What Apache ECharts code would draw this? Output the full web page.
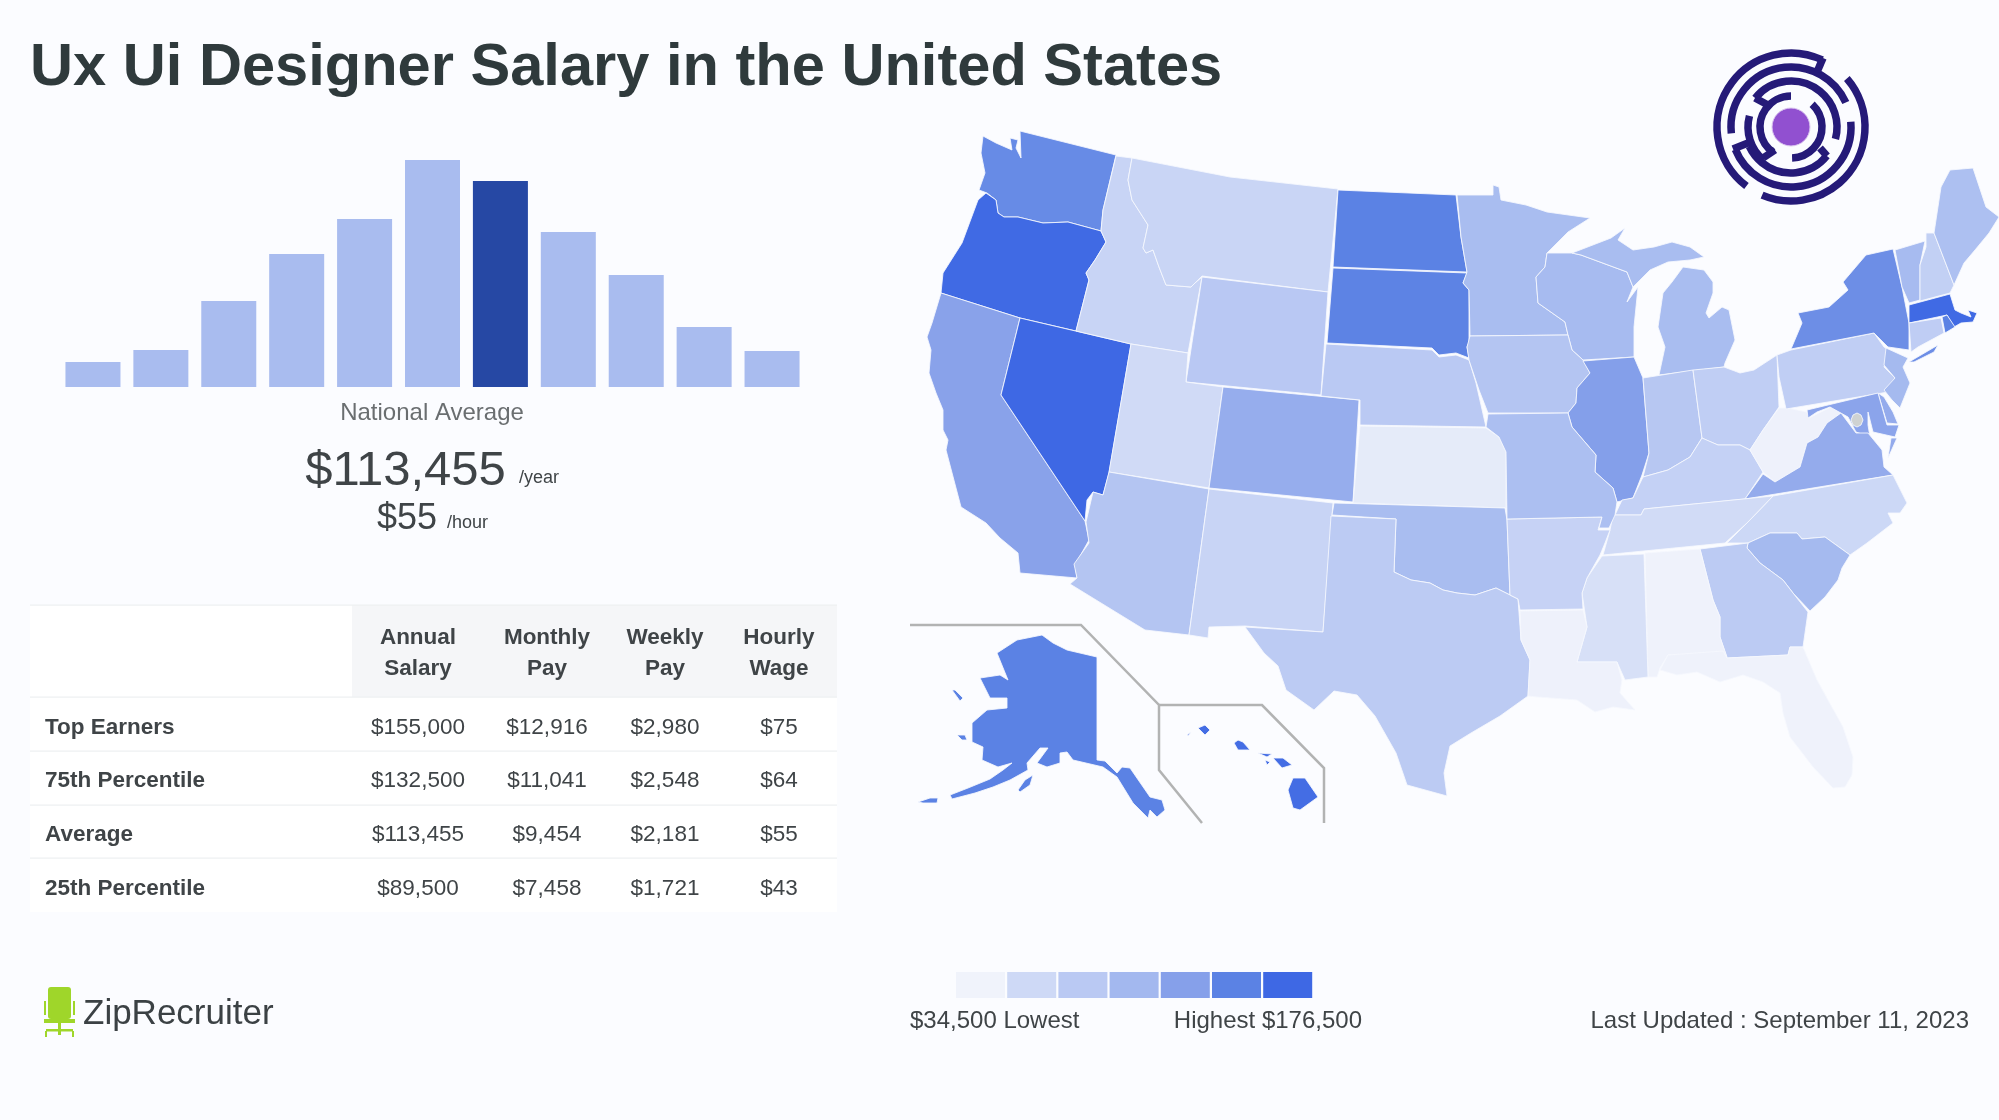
<!DOCTYPE html>
<html>
<head>
<meta charset="utf-8">
<title>Ux Ui Designer Salary in the United States</title>
<style>
html, body { margin: 0; padding: 0; background: #fbfcff; }
#main { width: 1999px; height: 1120px; }
</style>
<script src="https://cdn.jsdelivr.net/npm/echarts@6/dist/echarts.min.js"></script>
</head>
<body>
<div id="main"></div>
<script>
// histogram, relative share of each salary band
const salaryBands = ['b1', 'b2', 'b3', 'b4', 'b5', 'b6', 'b7', 'b8', 'b9', 'b10', 'b11'];
const bandShare = [25, 37, 86, 133, 168, 227, 206, 155, 112, 60, 36];
const averageBand = 'b7';

// pay table
const tableColumns = [['Annual', 'Salary'], ['Monthly', 'Pay'], ['Weekly', 'Pay'], ['Hourly', 'Wage']];
const tableRows = ['Top Earners', '75th Percentile', 'Average', '25th Percentile'];
const annualSalary = ['$155,000', '$132,500', '$113,455', '$89,500'];
const monthlyPay = ['$12,916', '$11,041', '$9,454', '$7,458'];
const weeklyPay = ['$2,980', '$2,548', '$2,181', '$1,721'];
const hourlyWage = ['$75', '$64', '$55', '$43'];

// state salaries, estimated from the fill shade of each state
const stateNames = ['AK', 'AL', 'AR', 'AZ', 'CA', 'CO', 'CT', 'DE', 'FL', 'GA', 'HI', 'IA', 'ID', 'IL', 'IN', 'KS', 'KY', 'LA', 'MA', 'MD', 'ME', 'MI', 'MN', 'MO', 'MS', 'MT', 'NC', 'ND', 'NE', 'NH', 'NJ', 'NM', 'NV', 'NY', 'OH', 'OK', 'OR', 'PA', 'RI', 'SC', 'SD', 'TN', 'TX', 'UT', 'VA', 'VT', 'WA', 'WI', 'WV', 'WY'];
const stateSalary = [153000, 35000, 68000, 88000, 127000, 116000, 76000, 118000, 35000, 79000, 172000, 88000, 65000, 130000, 85000, 42000, 70000, 36000, 175000, 125000, 95000, 99000, 99000, 96000, 52000, 64000, 60000, 153000, 82000, 72000, 103000, 65000, 176500, 143000, 75000, 99000, 175000, 75000, 153000, 103000, 152000, 56000, 79000, 57000, 118000, 101000, 146000, 101000, 36000, 83000];
const lowestSalary = 34500;
const highestSalary = 176500;
const scaleColors = ['#f0f3fb', '#ced9f6', '#bac9f3', '#a3b8ef', '#86a0ea', '#5b82e4', '#3e68e4'];

// simplified state outlines, in page pixels
const stateShapes = {
	WA: [[[983,136],[981,153],[985,173],[979,190],[987,193],[996,200],[998,213],[1004,217],[1018,217],[1043,223],[1068,222],[1101,231],[1103,210],[1116,155],[1020,131],[1021,158],[1016,148],[1018,140],[1010,138],[1012,150],[996,143]]],
	OR: [[[986,193],[978,200],[962,243],[943,273],[941,293],[1020,318],[1076,331],[1089,280],[1086,273],[1095,260],[1106,242],[1101,231],[1068,222],[1043,223],[1018,217],[1004,217],[998,213],[996,200]]],
	CA: [[[941,293],[1020,318],[1001,395],[1085,521],[1089,540],[1075,565],[1077,578],[1020,573],[1018,553],[1000,538],[986,523],[961,507],[946,450],[948,440],[943,430],[943,410],[936,393],[929,373],[931,350],[927,337],[932,323]]],
	NV: [[[1020,318],[1131,344],[1109,473],[1103,495],[1093,492],[1087,500],[1085,521],[1001,395]]],
	ID: [[[1116,156],[1132,158],[1128,180],[1132,200],[1148,225],[1143,248],[1146,253],[1153,250],[1159,267],[1166,285],[1191,287],[1195,283],[1202,277],[1188,353],[1131,344],[1076,331],[1089,280],[1086,273],[1095,260],[1106,242],[1101,231],[1103,210]]],
	MT: [[[1132,158],[1230,177],[1338,189],[1328,292],[1202,276],[1195,283],[1191,287],[1166,285],[1159,267],[1153,250],[1146,253],[1143,248],[1148,225],[1132,200],[1128,180]]],
	WY: [[[1202,277],[1328,292],[1321,395],[1186,382]]],
	UT: [[[1131,344],[1188,353],[1186,382],[1223,387],[1209,488],[1109,472]]],
	CO: [[[1223,387],[1359,400],[1353,502],[1209,488]]],
	AZ: [[[1109,472],[1209,489],[1189,635],[1145,630],[1070,584],[1077,578],[1074,564],[1089,543],[1086,522],[1093,492],[1103,495]]],
	NM: [[[1209,489],[1333,503],[1323,632],[1245,626],[1209,627],[1208,638],[1189,635]]],
	ND: [[[1338,190],[1456,195],[1461,237],[1467,272],[1333,267]]],
	SD: [[[1333,268],[1467,273],[1463,283],[1469,290],[1469,342],[1467,347],[1469,358],[1456,353],[1439,355],[1432,348],[1327,343]]],
	NE: [[[1326,344],[1432,350],[1439,357],[1456,355],[1469,360],[1476,383],[1486,427],[1360,425],[1360,400],[1321,396]]],
	KS: [[[1360,426],[1486,428],[1499,437],[1506,452],[1506,508],[1353,503]]],
	OK: [[[1334,503],[1505,508],[1507,520],[1510,595],[1496,588],[1475,595],[1457,593],[1443,590],[1430,583],[1411,580],[1394,572],[1396,519],[1332,515]]],
	TX: [[[1331,516],[1396,519],[1394,572],[1411,580],[1430,583],[1443,590],[1457,593],[1475,595],[1496,588],[1510,595],[1518,599],[1521,640],[1530,660],[1528,696],[1500,716],[1471,733],[1450,746],[1444,773],[1447,796],[1407,785],[1396,753],[1375,716],[1357,695],[1334,691],[1314,710],[1286,690],[1278,666],[1264,653],[1245,627],[1323,632]]],
	MN: [[[1457,195],[1493,195],[1493,185],[1499,187],[1501,200],[1526,205],[1547,212],[1590,218],[1568,232],[1547,253],[1545,267],[1536,277],[1538,303],[1565,322],[1568,335],[1470,336],[1469,290],[1463,283],[1467,272],[1461,237]]],
	WI: [[[1547,253],[1572,253],[1581,255],[1627,272],[1633,287],[1627,302],[1638,287],[1634,327],[1634,357],[1583,360],[1572,350],[1568,335],[1565,322],[1538,303],[1536,277],[1545,267]]],
	MI: [
		[[1581,255],[1572,253],[1611,238],[1625,228],[1618,240],[1633,250],[1654,247],[1672,242],[1690,247],[1704,257],[1690,260],[1668,262],[1650,270],[1638,282],[1633,287],[1627,272]],
		[[1683,267],[1704,270],[1713,282],[1713,293],[1706,313],[1709,318],[1722,307],[1729,310],[1735,340],[1725,363],[1724,367],[1659,375],[1665,347],[1658,327],[1663,293],[1672,282]]
	],
	IA: [[[1470,336],[1568,335],[1572,350],[1583,360],[1590,373],[1577,388],[1576,403],[1568,413],[1488,413],[1479,390],[1469,360],[1467,347]]],
	IL: [[[1583,361],[1634,357],[1643,378],[1649,453],[1642,475],[1633,498],[1617,502],[1613,488],[1595,472],[1596,455],[1572,427],[1568,413],[1576,403],[1577,388],[1590,373]]],
	IN: [[[1643,378],[1693,370],[1702,438],[1690,457],[1668,470],[1643,477],[1649,453]]],
	OH: [[[1693,370],[1724,367],[1740,373],[1754,370],[1777,355],[1779,407],[1763,430],[1750,450],[1740,445],[1718,445],[1706,440],[1702,438]]],
	KY: [[[1643,477],[1668,470],[1690,457],[1702,438],[1718,445],[1740,445],[1750,450],[1763,472],[1745,499],[1644,509],[1641,515],[1615,515],[1622,500],[1633,498]]],
	WV: [[[1779,408],[1788,408],[1807,412],[1809,418],[1831,407],[1841,413],[1827,423],[1818,437],[1807,443],[1800,467],[1775,482],[1763,472],[1750,450],[1763,430]]],
	PA: [[[1777,355],[1791,350],[1874,333],[1884,347],[1889,350],[1884,367],[1895,378],[1888,392],[1786,409],[1779,377]]],
	NY: [
		[[1791,349],[1802,323],[1798,313],[1829,307],[1848,290],[1843,282],[1866,255],[1893,249],[1902,287],[1909,323],[1909,350],[1888,347],[1874,333]],
		[[1909,362],[1938,345],[1934,352],[1914,362]]
	],
	VT: [[[1895,250],[1925,241],[1920,265],[1920,300],[1909,303],[1902,287]]],
	NH: [[[1926,233],[1934,233],[1954,285],[1950,293],[1920,301],[1920,265],[1926,247]]],
	ME: [[[1934,233],[1941,187],[1950,170],[1973,168],[1986,207],[1999,217],[1989,233],[1975,250],[1964,263],[1954,285]]],
	MA: [[[1909,305],[1950,294],[1955,310],[1961,313],[1971,317],[1968,310],[1977,313],[1973,322],[1961,323],[1954,327],[1947,315],[1909,323]]],
	RI: [[[1942,317],[1947,315],[1955,327],[1945,333]]],
	CT: [[[1909,323],[1941,318],[1944,333],[1918,347],[1911,352]]],
	NJ: [[[1886,348],[1908,358],[1903,367],[1910,383],[1900,408],[1892,400],[1884,390],[1895,378],[1884,365]]],
	DE: [[[1878,393],[1884,397],[1893,412],[1898,424],[1887,423]]],
	MD: [[[1807,410],[1878,393],[1887,425],[1899,425],[1895,437],[1873,432],[1868,412],[1868,425],[1870,437],[1856,432],[1848,417],[1830,407],[1817,412],[1808,418]]],
	VA: [
		[[1745,499],[1893,475],[1884,467],[1882,450],[1868,433],[1856,433],[1841,413],[1827,423],[1818,437],[1807,443],[1800,467],[1775,482],[1763,474]],
		[[1891,438],[1897,438],[1888,458]]
	],
	NC: [[[1773,496],[1893,475],[1907,503],[1900,513],[1888,513],[1893,523],[1867,543],[1850,555],[1825,537],[1802,539],[1797,533],[1770,533],[1748,543],[1727,543],[1747,523]]],
	TN: [[[1613,515],[1641,515],[1644,509],[1773,496],[1747,523],[1725,543],[1603,555],[1610,530]]],
	SC: [[[1748,543],[1770,533],[1797,533],[1802,539],[1825,537],[1850,555],[1842,568],[1838,580],[1825,597],[1810,611],[1793,593],[1783,580],[1760,563],[1747,548]]],
	GA: [[[1700,549],[1748,543],[1747,548],[1760,563],[1783,580],[1793,593],[1808,612],[1803,647],[1790,647],[1788,655],[1727,658],[1720,637],[1720,617],[1713,600]]],
	AL: [[[1645,553],[1700,549],[1713,600],[1720,617],[1720,637],[1727,657],[1668,655],[1660,668],[1657,677],[1648,677]]],
	FL: [[[1668,655],[1723,651],[1727,658],[1788,655],[1790,647],[1803,647],[1817,680],[1843,727],[1853,757],[1852,775],[1845,787],[1833,788],[1813,767],[1790,737],[1783,713],[1780,693],[1763,682],[1743,675],[1720,682],[1697,672],[1677,675],[1660,670]]],
	MS: [[[1602,556],[1644,554],[1648,677],[1625,680],[1617,662],[1577,662],[1587,627],[1582,593],[1587,578]]],
	LA: [[[1520,611],[1583,610],[1587,627],[1577,662],[1617,662],[1622,680],[1620,693],[1635,710],[1613,707],[1595,712],[1577,700],[1537,697],[1528,696],[1530,660],[1521,640]]],
	AR: [[[1507,519],[1602,517],[1598,530],[1610,530],[1605,543],[1600,555],[1587,578],[1582,593],[1583,609],[1520,610],[1518,599],[1510,595]]],
	MO: [[[1488,414],[1568,413],[1572,427],[1596,455],[1595,472],[1613,488],[1617,502],[1615,515],[1609,528],[1599,528],[1602,517],[1507,519],[1506,452],[1499,437],[1486,427]]],
	AK: [
		[[1097,657],[1097,760],[1105,761],[1117,773],[1122,767],[1130,768],[1150,797],[1162,800],[1165,810],[1157,817],[1150,810],[1148,818],[1133,803],[1117,777],[1103,767],[1073,760],[1067,752],[1060,753],[1060,763],[1047,767],[1037,763],[1048,748],[1040,748],[1027,763],[1028,770],[1010,780],[993,787],[975,793],[952,799],[950,795],[968,788],[990,779],[1003,770],[1012,763],[998,767],[982,760],[983,747],[972,742],[972,723],[987,710],[1007,708],[1007,698],[990,698],[980,678],[1000,675],[1008,680],[997,653],[1017,640],[1042,635],[1053,643],[1067,650]],
		[[1018,790],[1025,780],[1033,775],[1030,785],[1020,792]],
		[[918,802],[930,798],[938,798],[937,803],[923,803]],
		[[952,690],[955,690],[963,698],[960,701]],
		[[957,735],[965,735],[967,740],[962,740]]
	],
	HI: [
		[[1293,778],[1305,778],[1318,797],[1300,810],[1293,808],[1288,790]],
		[[1273,758],[1283,758],[1292,765],[1282,768]],
		[[1258,753],[1272,754],[1267,757]],
		[[1265,760],[1270,762],[1267,765]],
		[[1238,740],[1243,742],[1250,750],[1238,750],[1234,743]],
		[[1198,728],[1205,725],[1210,730],[1205,735]],
		[[1187,735],[1191,732],[1188,736]]
	],
	DC: [[[1863,420],[1861,425],[1857,427],[1853,425],[1851,420],[1853,415],[1857,413],[1861,415]]]
};

// gray frames round the Alaska and Hawaii insets
const insetFrames = [
	[[910,625],[1081,625],[1159,705],[1159,770],[1202,823]],
	[[1159,705],[1262,705],[1324,768],[1324,823]]
];

const textFont = '"Liberation Sans", Arial, sans-serif';
const darkText = '#3f4447';

// geo json from the outlines, projection below keeps them in page pixels
const features = Object.keys(stateShapes).map(name => ({
	type: 'Feature',
	properties: { name: name },
	geometry: { type: 'MultiPolygon', coordinates: stateShapes[name].map(ring => [ring.concat([ring[0]])]) }
}));
echarts.registerMap('usStates', { type: 'FeatureCollection', features: features });

let xs = [], ys = [];
Object.keys(stateShapes).forEach(name => {
	stateShapes[name].forEach(ring => ring.forEach(p => { xs.push(p[0]); ys.push(p[1]); }));
});
const mapLeft = Math.min.apply(null, xs), mapTop = Math.min.apply(null, ys);
const mapWidth = Math.max.apply(null, xs) - mapLeft, mapHeight = Math.max.apply(null, ys) - mapTop;

function text(str, x, y, size, opts) {
	opts = opts || {};
	return {
		type: 'text', x: x, y: y, silent: true,
		style: {
			text: str, fill: opts.color || darkText,
			font: (opts.bold ? 'bold ' : '') + size + 'px ' + textFont,
			textAlign: opts.align || 'center', textVerticalAlign: 'middle'
		}
	};
}
function rect(x, y, w, h, color) {
	return { type: 'rect', silent: true, shape: { x: x, y: y, width: w, height: h }, style: { fill: color } };
}

let graphics = [];

// pay table
graphics.push(rect(30, 605, 807, 307, '#ffffff'));
graphics.push(rect(352, 605, 485, 92, '#f5f6f8'));
[605, 697, 751, 805, 858].forEach(y => graphics.push(rect(30, y - 0.5, 807, 1.2, '#eef0f2')));
const columnX = [418, 547, 665, 779];
const rowY = [727.5, 780.5, 834.5, 888.5];
tableColumns.forEach((lines, i) => {
	graphics.push(text(lines[0], columnX[i], 637.5, 22.5, { bold: true }));
	graphics.push(text(lines[1], columnX[i], 668.5, 22.5, { bold: true }));
});
tableRows.forEach((label, r) => {
	graphics.push(text(label, 45, rowY[r], 22.5, { bold: true, align: 'left' }));
	[annualSalary, monthlyPay, weeklyPay, hourlyWage].forEach((col, c) => {
		graphics.push(text(col[r], columnX[c], rowY[r], 22.5));
	});
});

// national average block
graphics.push(text('National Average', 432, 413, 24, { color: '#6a6e70' }));
graphics.push(text('$113,455', 405.5, 471, 49));
graphics.push(text('/year', 519, 478, 18, { align: 'left' }));
graphics.push(text('$55', 407, 519, 36));
graphics.push(text('/hour', 447, 523, 18, { align: 'left' }));

// colour scale
scaleColors.forEach((c, i) => graphics.push(rect(956 + i * 51.2, 972, 49, 26, c)));
graphics.push(text('$' + lowestSalary.toLocaleString('en-US') + ' Lowest', 910, 1021, 24, { align: 'left' }));
graphics.push(text('Highest $' + highestSalary.toLocaleString('en-US'), 1362, 1021, 24, { align: 'right' }));
graphics.push(text('Last Updated : September 11, 2023', 1969, 1021, 24, { align: 'right' }));

// inset frames
insetFrames.forEach(points => {
	graphics.push({ type: 'polyline', silent: true, shape: { points: points }, style: { stroke: '#b2b3b3', lineWidth: 2.5, fill: null } });
});

// ziprecruiter logo
graphics.push({ type: 'rect', silent: true, shape: { x: 48, y: 987, width: 23, height: 32, r: 3 }, style: { fill: '#9fd62a' } });
graphics.push(rect(44, 1001, 2, 14, '#9fd62a'));
graphics.push(rect(73, 1001, 2, 14, '#9fd62a'));
graphics.push(rect(44, 1019, 31, 4, '#9fd62a'));
graphics.push(rect(58, 1023, 3, 12, '#9fd62a'));
graphics.push(rect(46, 1029, 27, 2.5, '#9fd62a'));
graphics.push(rect(45, 1031, 2, 6, '#9fd62a'));
graphics.push(rect(72, 1031, 2, 6, '#9fd62a'));
graphics.push(text('ZipRecruiter', 83, 1014, 35, { align: 'left', color: '#3b4144' }));

// maze logo, ring arcs as [radius, start, end] in degrees clockwise from east
const mazeArcs = [
	[74, 127, 295], [74, -41, 113],
	[60, 174, 336], [60, -5, 158],
	[46, 219, 375], [46, 39, 155], [43, 130, 195],
	[31, 125, 270], [31, -47, 88]
];
const mazeSpokes = [
	[[1823, 58], [1817, 72]], [[1733, 149], [1748, 143]], [[1755, 98], [1768, 105]],
	[[1820, 148], [1827, 156]], [[1763, 158], [1775, 150]]
];
mazeArcs.forEach(a => {
	graphics.push({
		type: 'arc', silent: true,
		shape: { cx: 1791, cy: 127, r: a[0], startAngle: a[1] * Math.PI / 180, endAngle: a[2] * Math.PI / 180, clockwise: true },
		style: { stroke: '#251a78', lineWidth: 7.5, fill: null }
	});
});
mazeSpokes.forEach(s => {
	graphics.push({ type: 'line', silent: true, shape: { x1: s[0][0], y1: s[0][1], x2: s[1][0], y2: s[1][1] }, style: { stroke: '#251a78', lineWidth: 7.5 } });
});
graphics.push({ type: 'circle', silent: true, shape: { cx: 1791, cy: 127, r: 19 }, style: { fill: '#9150d0', stroke: '#dcc8f0', lineWidth: 1 } });

let chart = echarts.init(document.getElementById('main'));
chart.setOption({
	backgroundColor: '#fbfcff',
	animation: false,
	textStyle: { fontFamily: textFont },
	title: {
		text: 'Ux Ui Designer Salary in the United States',
		left: 25, top: 34,
		textStyle: { fontSize: 59.6, fontWeight: 'bold', color: '#2f3a3c', fontFamily: textFont }
	},
	grid: { left: 59, top: 160, width: 747, height: 227 },
	xAxis: { type: 'category', data: salaryBands, show: false },
	yAxis: { type: 'value', min: 0, max: 227, show: false },
	visualMap: {
		type: 'continuous', show: false, seriesIndex: 1,
		min: lowestSalary, max: highestSalary,
		inRange: { color: scaleColors }
	},
	series: [
		{
			type: 'bar', silent: true,
			barCategoryGap: '19%',
			data: bandShare.map((v, i) => ({
				value: v,
				itemStyle: { color: salaryBands[i] === averageBand ? '#2648a4' : '#a9bcef' }
			}))
		},
		{
			type: 'map', map: 'usStates', silent: true, roam: false,
			projection: { project: p => p, unproject: p => p },
			left: mapLeft, top: mapTop, width: mapWidth, height: mapHeight,
			label: { show: false },
			itemStyle: { areaColor: '#cfd2d2', borderColor: 'rgba(246,248,254,0.85)', borderWidth: 1 },
			data: stateNames.map((name, i) => ({ name: name, value: stateSalary[i] }))
		}
	],
	graphic: graphics
});
</script>
</body>
</html>
